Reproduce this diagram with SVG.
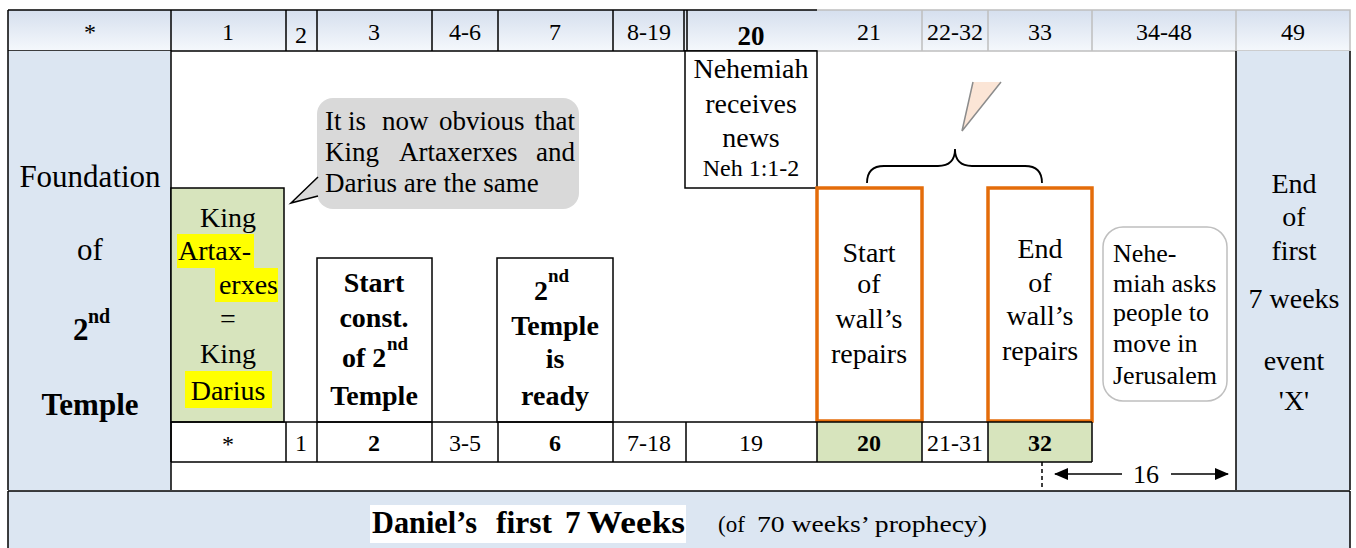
<svg xmlns="http://www.w3.org/2000/svg" width="1356" height="548" viewBox="0 0 1356 548">
<defs>
<linearGradient id="hdr" x1="0" y1="0" x2="0" y2="1">
<stop offset="0" stop-color="#d5dfee"/>
<stop offset="1" stop-color="#f5f8fc"/>
</linearGradient>
<marker id="ah" viewBox="0 0 14 12" refX="13" refY="6" markerWidth="14" markerHeight="12" markerUnits="userSpaceOnUse" orient="auto-start-reverse">
<path d="M0,0 L14,6 L0,12 Z" fill="#000"/>
</marker>
</defs>
<style>
text{font-family:"Liberation Serif","Times New Roman",serif;fill:#000;font-size:28px}
.c{text-anchor:middle}
.e{text-anchor:end}
.b{font-weight:bold}
.h{font-size:24px}
.blk{fill:none;stroke:#000;stroke-width:1.5}
.gry{fill:none;stroke:#bfbfbf;stroke-width:1.5}
.blue{fill:#dce6f2}
.green{fill:#d7e4bd}
.orange{fill:#fff;stroke:#e46c0a;stroke-width:3.5}
.hl{fill:#ffff00}
</style>
<rect x="0" y="0" width="1356" height="548" fill="#fff"/>

<g id="header">
<rect x="8" y="10" width="1342" height="41" fill="url(#hdr)"/>
<path class="gry" d="M817,10 H1350 V51 H817 M922,10 V51 M988,10 V51 M1092,10 V51 M1236,10 V51"/>
<path class="blk" d="M8,10 H817 M8,51 H817 M8,10 V51 M171,10 V51 M286,10 V51 M317,10 V51 M432,10 V51 M498,10 V51 M613,10 V51 M684,10 V51 M687,10 V51"/>
<text class="c h" x="90" y="40">*</text>
<text class="c h" x="228" y="40">1</text>
<text class="c h" x="301" y="43">2</text>
<text class="c h" x="374" y="40">3</text>
<text class="c h" x="465" y="40">4-6</text>
<text class="c h" x="555" y="40">7</text>
<text class="c h" x="649" y="40">8-19</text>
<text class="c b" x="751" y="45" style="font-size:27px">20</text>
<text class="c h" x="869" y="40">21</text>
<text class="c h" x="955" y="40">22-32</text>
<text class="c h" x="1040" y="40">33</text>
<text class="c h" x="1164" y="40">34-48</text>
<text class="c h" x="1293" y="40">49</text>
</g>

<g id="foundation">
<rect class="blue" x="8" y="51" width="163" height="439"/>
<path class="blk" d="M8,51 V490 M171,51 V490"/>
<text class="c" x="90" y="187" style="font-size:31px">Foundation</text>
<text class="c" x="90" y="260" style="font-size:31px">of</text>
<text class="b" x="73" y="340" style="font-size:31px">2</text>
<text class="b" x="88" y="323" style="font-size:20px">nd</text>
<text class="c b" x="90" y="415" style="font-size:31px">Temple</text>
</g>

<g id="king">
<rect class="green" x="171" y="188" width="113" height="234" stroke="#000" stroke-width="1.5"/>
<rect class="hl" x="177" y="234" width="77" height="34"/>
<rect class="hl" x="215" y="268" width="63" height="34"/>
<rect class="hl" x="185" y="371" width="87" height="37"/>
<text class="c" x="228" y="227">King</text>
<text x="178" y="260">Artax-</text>
<text class="e" x="278" y="294">erxes</text>
<text class="c" x="228" y="328">=</text>
<text class="c" x="228" y="363">King</text>
<text class="c" x="228" y="400">Darius</text>
</g>

<g id="callout">
<rect x="317" y="98" width="262" height="111" rx="16" fill="#d9d9d9"/>
<path d="M318,177 L291,203 L318,196 Z" fill="#d9d9d9"/>
<path d="M318,177 L291,203 L318,196" fill="none" stroke="#000" stroke-width="1.5"/>
<text style="font-size:27px" y="130"><tspan x="325">It</tspan><tspan x="348">is</tspan><tspan x="382">now</tspan><tspan x="439">obvious</tspan><tspan x="575" text-anchor="end">that</tspan></text>
<text style="font-size:27px" y="161"><tspan x="325">King</tspan><tspan x="399">Artaxerxes</tspan><tspan x="575" text-anchor="end">and</tspan></text>
<text style="font-size:27px" x="325" y="192">Darius are the same</text>
</g>

<g id="start-const">
<rect x="317" y="258" width="115" height="164" fill="#fff" stroke="#000" stroke-width="1.5"/>
<text class="c b" x="374" y="292">Start</text>
<text class="c b" x="374" y="327">const.</text>
<text class="b" x="342" y="367">of 2</text>
<text class="b" x="387" y="350" style="font-size:19px">nd</text>
<text class="c b" x="374" y="405">Temple</text>
</g>

<g id="temple-ready">
<rect x="497" y="258" width="116" height="164" fill="#fff" stroke="#000" stroke-width="1.5"/>
<text class="b" x="534" y="300">2</text>
<text class="b" x="548" y="282" style="font-size:19px">nd</text>
<text class="c b" x="555" y="335">Temple</text>
<text class="c b" x="555" y="368">is</text>
<text class="c b" x="555" y="405">ready</text>
</g>

<g id="nehemiah-news">
<rect x="685" y="51" width="132" height="137" fill="#fff" stroke="#000" stroke-width="1.5"/>
<text class="c" x="751" y="78">Nehemiah</text>
<text class="c" x="751" y="113">receives</text>
<text class="c" x="751" y="147">news</text>
<text class="c h" x="751" y="176">Neh 1:1-2</text>
</g>

<g id="start-wall">
<rect class="orange" x="817" y="188" width="105" height="233"/>
<text class="c" x="869" y="262">Start</text>
<text class="c" x="869" y="293">of</text>
<text class="c" x="869" y="328">wall’s</text>
<text class="c" x="869" y="363">repairs</text>
</g>

<g id="end-wall">
<rect class="orange" x="988" y="188" width="104" height="233"/>
<text class="c" x="1040" y="258">End</text>
<text class="c" x="1040" y="292">of</text>
<text class="c" x="1040" y="325">wall’s</text>
<text class="c" x="1040" y="360">repairs</text>
</g>

<g id="brace-note">
<path d="M962,131 L973,82 L1001,82 Z" fill="#fbe5d6"/>
<path d="M973,82 L962,131 L1001,82" fill="none" stroke="#8c8c8c" stroke-width="1.5"/>
</g>

<g id="nehemiah-asks">
<rect x="1103" y="227" width="124" height="174" rx="20" fill="#fff" stroke="#bfbfbf" stroke-width="1.5"/>
<text style="font-size:26px" x="1113" y="262">Nehe-</text>
<text style="font-size:26px" x="1113" y="292">miah asks</text>
<text style="font-size:26px" x="1113" y="321">people to</text>
<text style="font-size:26px" x="1113" y="352">move in</text>
<text style="font-size:26px" x="1113" y="384">Jerusalem</text>
</g>

<g id="end-first">
<rect class="blue" x="1236" y="51" width="114" height="439"/>
<path class="blk" d="M1236,51 V490 M1350,51 V490"/>
<text class="c" x="1294" y="193">End</text>
<text class="c" x="1294" y="226">of</text>
<text class="c" x="1294" y="260">first</text>
<text class="c" x="1294" y="308">7 weeks</text>
<text class="c" x="1294" y="370">event</text>
<text class="c" x="1294" y="410">'X'</text>
</g>

<g id="lower-row">
<rect class="green" x="817" y="422" width="105" height="40"/>
<rect class="green" x="988" y="422" width="104" height="40"/>
<path class="blk" d="M171,422 H1092 M171,462 H1092 M171,422 V462 M286,422 V462 M317,422 V462 M432,422 V462 M498,422 V462 M613,422 V462 M686,422 V462 M817,422 V462 M922,422 V462 M988,422 V462 M1092,422 V462"/>
<text class="c h" x="228" y="452">*</text>
<text class="c h" x="301" y="451">1</text>
<text class="c h b" x="374" y="451">2</text>
<text class="c h" x="465" y="451">3-5</text>
<text class="c h b" x="555" y="451">6</text>
<text class="c h" x="649" y="451">7-18</text>
<text class="c h" x="751" y="451">19</text>
<text class="c h b" x="869" y="451">20</text>
<text class="c h" x="955" y="451">21-31</text>
<text class="c h b" x="1040" y="451">32</text>
</g>

<g id="connectors">
<path d="M867,183 Q867,166 884,166 L938,166 Q955,166 955,149 Q955,166 972,166 L1025,166 Q1042,166 1042,183" fill="none" stroke="#000" stroke-width="1.8"/>
<path d="M1042,462 V490" fill="none" stroke="#000" stroke-width="1.5" stroke-dasharray="4,3"/>
<path d="M1122,474 H1055" fill="none" stroke="#000" stroke-width="1.5" marker-end="url(#ah)"/>
<path d="M1171,474 H1228" fill="none" stroke="#000" stroke-width="1.5" marker-end="url(#ah)"/>
<text class="c" x="1146" y="483" style="font-size:26px">16</text>
</g>

<g id="daniel">
<rect class="blue" x="8" y="491" width="1342" height="57"/>
<path class="blk" d="M8,491 H1350 M8,491 V548 M1350,491 V548"/>
<rect x="370" y="505" width="316" height="38" fill="#fff"/>
<text class="b" y="533" style="font-size:31px"><tspan x="372" textLength="105" lengthAdjust="spacingAndGlyphs">Daniel’s</tspan><tspan x="496" textLength="56" lengthAdjust="spacingAndGlyphs">first</tspan><tspan x="565">7</tspan><tspan x="587" textLength="98" lengthAdjust="spacingAndGlyphs">Weeks</tspan></text>
<text y="532" style="font-size:23px"><tspan x="718">(of</tspan><tspan x="757" textLength="230" lengthAdjust="spacingAndGlyphs">70 weeks’ prophecy)</tspan></text>
</g>
</svg>
